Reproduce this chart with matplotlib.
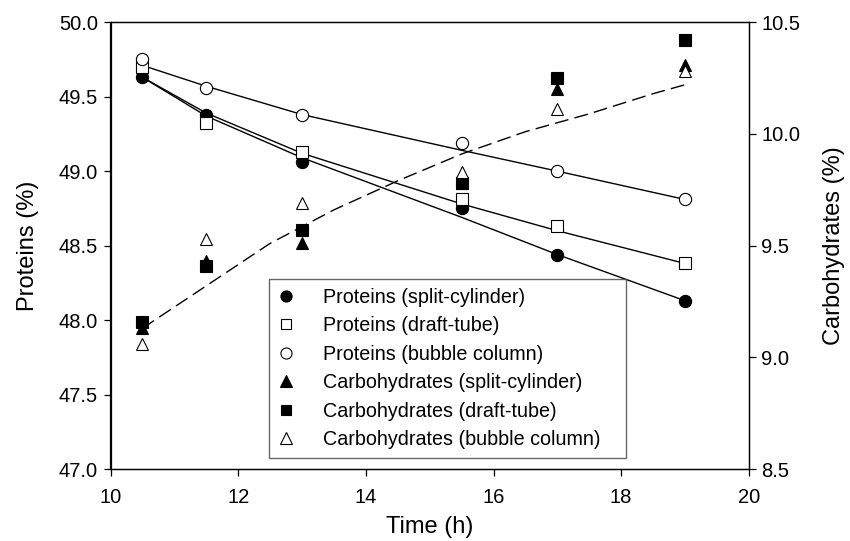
import matplotlib.pyplot as plt
from matplotlib.lines import Line2D

plt.rcParams["font.family"] = ["Liberation Sans", "DejaVu Sans"]

# measured values
time = [10.5, 11.5, 13, 15.5, 17, 19]
prot_sc = [49.63, 49.38, 49.06, 48.75, 48.44, 48.13]
prot_dt = [49.70, 49.32, 49.13, 48.81, 48.63, 48.38]
prot_bc = [49.75, 49.56, 49.38, 49.19, 49.00, 48.81]
carb_sc = [9.13, 9.43, 9.51, 9.78, 10.20, 10.31]
carb_dt = [9.16, 9.41, 9.57, 9.78, 10.25, 10.42]
carb_bc = [9.06, 9.53, 9.69, 9.83, 10.11, 10.28]

# fitted curves
fit_time = [10.5, 11.5, 13, 15.5, 17, 19]
fit_prot_sc = [49.63, 49.37, 49.09, 48.69, 48.44, 48.13]
fit_prot_dt = [49.63, 49.39, 49.12, 48.78, 48.60, 48.38]
fit_prot_bc = [49.71, 49.57, 49.38, 49.14, 49.00, 48.81]
dash_time = [10.5, 11.5, 12.5, 13.5, 14.5, 15.5, 16.5, 17.5, 18.5, 19]
dash_carb = [9.13, 9.32, 9.51, 9.66, 9.79, 9.91, 10.01, 10.09, 10.18, 10.22]

labels = [
    "Proteins (split-cylinder)",
    "Proteins (draft-tube)",
    "Proteins (bubble column)",
    "Carbohydrates (split-cylinder)",
    "Carbohydrates (draft-tube)",
    "Carbohydrates (bubble column)",
]

fig = plt.figure(figsize=(8.5, 5.41), dpi=100)
ax = fig.add_axes([0.130, 0.133, 0.751, 0.826])
ax2 = ax.twinx()

ms = 8.8
mew = 0.8

# protein fits + points
for fy in (fit_prot_sc, fit_prot_dt, fit_prot_bc):
    ax.plot(fit_time, fy, color="black", linewidth=1.0, zorder=2)
ax.plot(time, prot_sc, "o", ms=ms, mfc="black", mec="black", mew=mew, zorder=3)
ax.plot(time, prot_dt, "s", ms=ms - 0.8, mfc="white", mec="black", mew=mew, zorder=3)
ax.plot(time, prot_bc, "o", ms=ms, mfc="white", mec="black", mew=mew, zorder=3)

# carbohydrate fit + points
ax2.plot(dash_time, dash_carb, color="black", linewidth=1.0,
         linestyle=(0, (10, 4.5)), zorder=2)
ax2.plot(time, carb_sc, "^", ms=ms, mfc="black", mec="black", mew=mew, zorder=3)
ax2.plot(time, carb_dt, "s", ms=ms - 0.8, mfc="black", mec="black", mew=mew, zorder=3)
ax2.plot(time, carb_bc, "^", ms=ms, mfc="white", mec="black", mew=mew, zorder=3)

ax.set_xlim(10, 20)
ax.set_ylim(47.0, 50.0)
ax2.set_ylim(8.5, 10.5)
ax.set_xticks([10, 12, 14, 16, 18, 20])
ax.set_yticks([47.0, 47.5, 48.0, 48.5, 49.0, 49.5, 50.0])
ax.set_yticklabels([f"{v:.1f}" for v in ax.get_yticks()])
ax2.set_yticks([8.5, 9.0, 9.5, 10.0, 10.5])
ax2.set_yticklabels([f"{v:.1f}" for v in ax2.get_yticks()])

for a in (ax, ax2):
    a.tick_params(direction="out", length=5, width=0.9, labelsize=14.5, pad=4)
    for s in a.spines.values():
        s.set_linewidth(0.9)
ax.tick_params(axis="x", pad=9)

ax.set_xlabel("Time (h)", fontsize=17, labelpad=6)
ax.set_ylabel("Proteins (%)", fontsize=17, labelpad=14)
ax2.set_ylabel("Carbohydrates (%)", fontsize=17, labelpad=16)

handles = [
    Line2D([], [], ls="none", marker="o", ms=8, mfc="black", mec="black", mew=mew),
    Line2D([], [], ls="none", marker="s", ms=7, mfc="white", mec="black", mew=mew),
    Line2D([], [], ls="none", marker="o", ms=8, mfc="white", mec="black", mew=mew),
    Line2D([], [], ls="none", marker="^", ms=8, mfc="black", mec="black", mew=mew),
    Line2D([], [], ls="none", marker="s", ms=7, mfc="black", mec="black", mew=mew),
    Line2D([], [], ls="none", marker="^", ms=8, mfc="white", mec="black", mew=mew),
]
leg = ax2.legend(handles, labels, loc="lower left",
                 bbox_to_anchor=(0.248, 0.025, 0.56, 0.39), mode="expand",
                 borderaxespad=0, fontsize=14.2, frameon=True, fancybox=False,
                 borderpad=0.45, handlelength=0.8, handletextpad=1.5,
                 labelspacing=0.48)
leg.get_frame().set_edgecolor("#404040")
leg.get_frame().set_linewidth(1.0)

fig.savefig("out.png", dpi=100)
